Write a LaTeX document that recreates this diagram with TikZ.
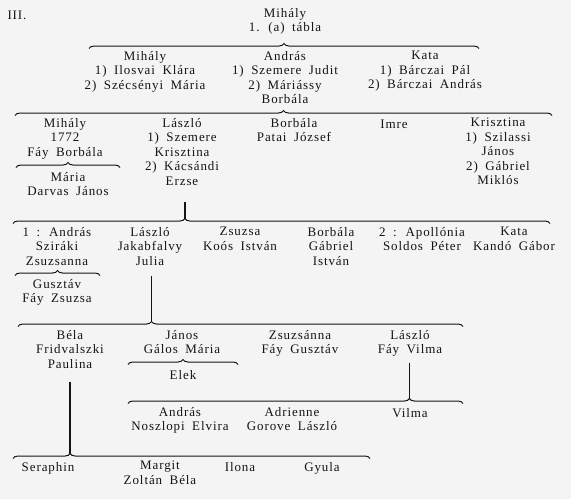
\documentclass[tikz,border=0pt]{standalone}
\usepackage{fontspec}
\setmainfont{Liberation Serif}[LetterSpace=7, WordSpace=1.8]
\usetikzlibrary{decorations.pathreplacing}
\definecolor{ink}{HTML}{141414}
\definecolor{paper}{HTML}{F4F4F4}
\tikzset{
  person/.style={align=center, inner sep=0pt, anchor=north, text=ink,
    font=\fontsize{13}{14.5}\selectfont, execute at begin node=\strut},
  br/.style={draw=ink, line width=1pt, decorate, decoration={brace, amplitude=5pt}},
  vline/.style={draw=ink, line width=1.8pt},
}
\begin{document}
\begin{tikzpicture}[x=1pt,y=-1pt]
\fill[paper] (0,0) rectangle (571,499);
\useasboundingbox (0,0) rectangle (571,499);
% title
\node[person] (iii) at (17,9) {III.};
\node[person] (top) at (285,8) {Mihály\\1. (a) tábla};
\draw[br] (89,48.5) -- (479,48.5);
% row 2
\node[person] (m2) at (145,51) {Mihály\\1) Ilosvai Klára\\2) Szécsényi Mária};
\node[person] (a2) at (285,51) {András\\1) Szemere Judit\\2) Máriássy\\Borbála};
\node[person] (k2) at (425,51) {Kata\\1) Bárczai Pál\\2) Bárczai András};
\draw[br] (15,115.5) -- (552,115.5);
% row 3
\node[person] (m3) at (65,118) {Mihály\\1772\\Fáy Borbála};
\draw[br] (16,167.5) -- (120,167.5);
\node[person] (maria) at (68,172) {Mária\\Darvas János};
\node[person] (l3) at (182,118) {László\\1) Szemere\\Krisztina\\2) Kácsándi\\Erzse};
\node[person] (b3) at (294,118) {Borbála\\Patai József};
\node[person] (imre) at (394,118) {Imre};
\node[person] (kr3) at (498,118) {Krisztina\\1) Szilassi\\János\\2) Gábriel\\Miklós};
\coordinate (t3) at (184.8,218.5);
\draw[br, decoration={aspect=0.32}] (13,223.5) -- (550,223.5);
\draw[vline] (l3.south -| t3) ++(0,12) -- (t3);
% row 4
\node[person] (a4) at (57,227) {1 : András\\Sziráki\\Zsuzsanna};
\draw[br] (15,275.5) -- (100,275.5);
\node[person] (gusztav) at (57,279) {Gusztáv\\Fáy Zsuzsa};
\node[person] (l4) at (150,227) {László\\Jakabfalvy\\Julia};
\node[person] (zs4) at (240,227) {Zsuzsa\\Koós István};
\node[person] (b4) at (331,227) {Borbála\\Gábriel\\István};
\node[person] (ap4) at (422,227) {2 : Apollónia\\Soldos Péter};
\node[person] (k4) at (514,227) {Kata\\Kandó Gábor};
\coordinate (t4) at (151.5,321.5);
\draw[br, decoration={aspect=0.30}] (18,326.5) -- (463,326.5);
\draw[vline] (l4.south -| t4) ++(0,6) -- (t4);
% row 5
\node[person] (bela) at (70,330) {Béla\\Fridvalszki\\Paulina};
\node[person] (janos) at (182,330) {János\\Gálos Mária};
\draw[br] (128,364.5) -- (238,364.5);
\node[person] (elek) at (183,369) {Elek};
\node[person] (zs5) at (300,330) {Zsuzsánna\\Fáy Gusztáv};
\node[person] (l5) at (410,330) {László\\Fáy Vilma};
\coordinate (t5) at (409.4,398.5);
\draw[br, decoration={aspect=0.84}] (128,403.5) -- (463,403.5);
\draw[vline] (l5.south -| t5) ++(0,5) -- (t5);
% row 6
\node[person] (andras6) at (180,407) {András\\Noszlopi Elvira};
\node[person] (adr6) at (292,407) {Adrienne\\Gorove László};
\node[person] (vilma) at (410,407) {Vilma};
\coordinate (t6) at (70,453.5);
\draw[br, decoration={aspect=0.16}] (13,458.5) -- (370,458.5);
\draw[vline] (bela.south -| t6) ++(0,9) -- (t6);
% row 7
\node[person] (seraphin) at (48,461) {Seraphin};
\node[person] (margit) at (160,461) {Margit\\Zoltán Béla};
\node[person] (ilona) at (240,461) {Ilona};
\node[person] (gyula) at (322,461) {Gyula};
\end{tikzpicture}
\end{document}
